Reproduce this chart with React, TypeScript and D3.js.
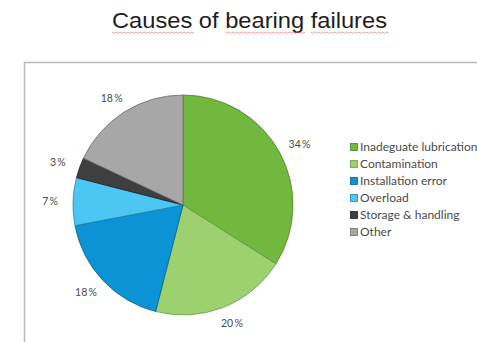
import React, { useEffect, useRef } from "react";
import * as d3 from "d3";

const categories = [
  "Inadeguate lubrication",
  "Contamination",
  "Installation error",
  "Overload",
  "Storage & handling",
  "Other",
];
const values = [34, 20, 18, 7, 3, 18];
const colors = ["#72b83f", "#9dd06f", "#0b93d6", "#4cc6f2", "#3f3f3f", "#a7a7a7"];
const strokes = ["#4f7f2c", "#6a9a4a", "#0a5f8a", "#2a86a8", "#222222", "#6f6f6f"];
const title = "Causes of bearing failures";
const misspelled = ["Causes", "bearing", "failures"];

export default function App() {
  const ref = useRef<SVGSVGElement>(null);
  useEffect(() => {
    const svg = d3.select(ref.current);
    svg.selectAll("*").remove();
    const W = 477, H = 342;
    svg.append("rect").attr("width", W).attr("height", H).attr("fill", "#fff");

    // title
    const titleW = 275, tcx = 249.5;
    const t = svg
      .append("text")
      .attr("x", tcx)
      .attr("y", 28)
      .attr("text-anchor", "middle")
      .attr("font-family", "Liberation Sans, Arial, sans-serif")
      .attr("font-size", 22)
      .attr("fill", "#1e1e1e")
      .text(title);
    const node = t.node() as SVGTextElement;
    const natural = node.getComputedTextLength();
    const k = titleW / natural;
    t.attr("textLength", titleW).attr("lengthAdjust", "spacingAndGlyphs");
    const x0 = tcx - titleW / 2;
    misspelled.forEach((w) => {
      const idx = title.indexOf(w);
      let sx = x0;
      let ww = 0;
      try {
        sx = x0 + (idx > 0 ? node.getSubStringLength(0, idx) : 0);
        ww = node.getSubStringLength(idx, w.length);
      } catch (e) {}
      if (Math.abs(node.getSubStringLength(0, title.length) - natural) < 1) {
        sx = x0 + (sx - x0) * k;
        ww = ww * k;
      }
      let d = `M${sx},32`;
      for (let x = sx, j = 0; x < sx + ww; x += 2, j++) {
        d += ` L${x + 2},${j % 2 === 0 ? 33.3 : 32}`;
      }
      svg.append("path").attr("d", d).attr("fill", "none").attr("stroke", "#e06060").attr("stroke-width", 0.8).attr("opacity", 0.75);
    });

    // frame
    svg
      .append("path")
      .attr("d", `M24.5,${H} L24.5,62.5 L${W},62.5`)
      .attr("fill", "none")
      .attr("stroke", "#b9b9b9")
      .attr("stroke-width", 1.5);

    // pie
    const cx = 183, cy = 205, r = 110;
    const data = categories.map((c, i) => ({ c, v: values[i], i }));
    const pie = d3.pie<any>().value((d) => d.v).sort(null);
    const arcs = pie(data);
    const arc = d3.arc<any>().innerRadius(0).outerRadius(r);
    const g = svg.append("g").attr("transform", `translate(${cx},${cy})`);
    g.selectAll("path")
      .data(arcs)
      .join("path")
      .attr("d", arc as any)
      .attr("fill", (d: any) => colors[d.data.i])
      .attr("stroke", (d: any) => strokes[d.data.i])
      .attr("stroke-width", 0.8);
    const lw = 22, lh = 10, lr = 122;
    g.selectAll("text")
      .data(arcs)
      .join("text")
      .attr("transform", (d: any) => {
        const a = (d.startAngle + d.endAngle) / 2;
        const s = Math.sin(a), c = Math.cos(a);
        const x = lr * s + (s * lw) / 2;
        const y = -lr * c - (c * lh) / 2;
        return `translate(${x},${y})`;
      })
      .attr("text-anchor", "middle")
      .attr("dy", "0.36em")
      .attr("font-family", "Lato, Open Sans, sans-serif")
      .attr("font-size", 10.5)
      .attr("fill", "#4a4a4a")
      .text((d: any) => `${d.data.v}\u2009%`);

    // legend
    const lg = svg.append("g");
    const ly = d3.scalePoint<string>().domain(categories).range([147, 232]);
    categories.forEach((c, i) => {
      const y = ly(c)!;
      lg.append("rect")
        .attr("x", 350.5)
        .attr("y", y - 3.5)
        .attr("width", 7)
        .attr("height", 7)
        .attr("fill", colors[i])
        .attr("stroke", strokes[i])
        .attr("stroke-width", 0.8);
      lg.append("text")
        .attr("x", 360)
        .attr("y", y)
        .attr("dy", "0.36em")
        .attr("font-family", "Lato, Open Sans, sans-serif")
        .attr("font-size", 12)
        .attr("fill", "#4a4a4a")
        .text(c);
    });
  }, []);
  return (
    <svg
      ref={ref}
      width={477}
      height={342}
      style={{ position: "fixed", left: 0, top: 0, display: "block" }}
    />
  );
}
